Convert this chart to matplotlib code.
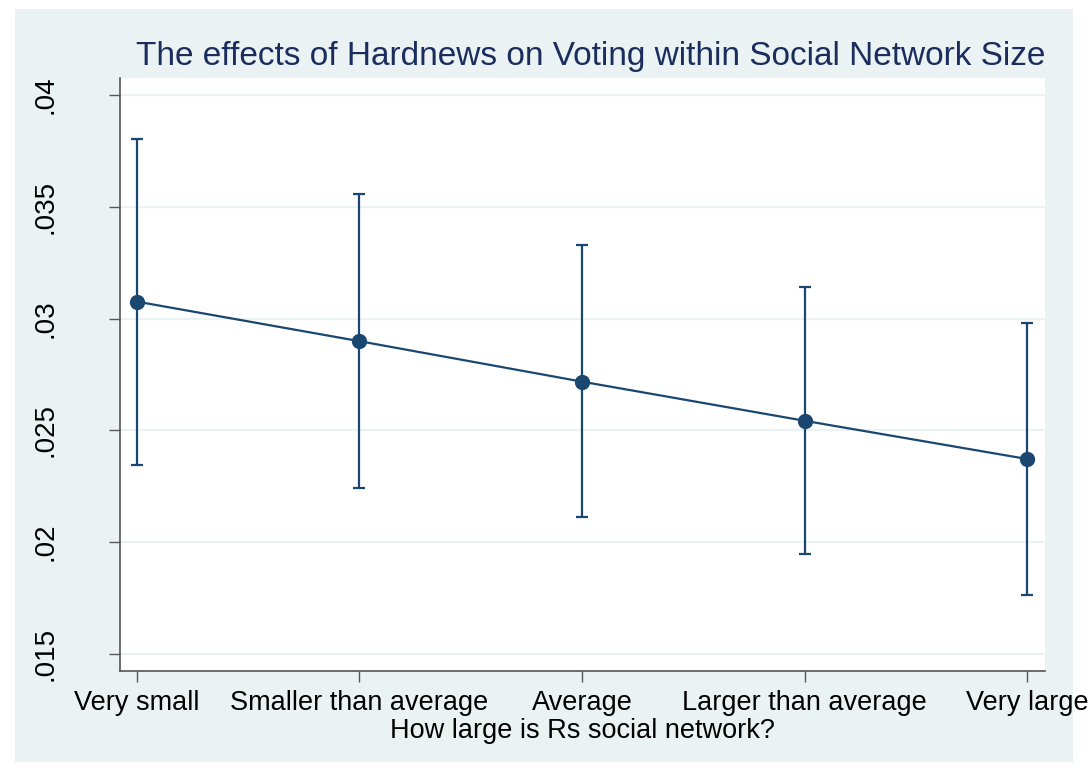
# marginal effect of hard news on turnout, by size of social network
import matplotlib.pyplot as plt
from matplotlib.patches import Rectangle

categories = ['Very small', 'Smaller than average', 'Average',
              'Larger than average', 'Very large']
effect = [0.03076, 0.02899, 0.02718, 0.02543, 0.02372]
ci_low = [0.02347, 0.02243, 0.02112, 0.01949, 0.01764]
ci_high = [0.03805, 0.03555, 0.03329, 0.03141, 0.02981]
yticks = [0.015, 0.02, 0.025, 0.03, 0.035, 0.04]
ytick_labels = ['.015', '.02', '.025', '.03', '.035', '.04']

navy = '#1a476f'
bg = '#eaf2f3'

plt.rcParams['font.family'] = ['Liberation Sans', 'DejaVu Sans']

fig = plt.figure(figsize=(10.92, 7.71), dpi=100, facecolor='white')
# stata-style shaded graph region, kept behind the axes
fig.patches.append(Rectangle((15 / 1092, 9 / 771), 1058 / 1092, 753 / 771,
                             transform=fig.transFigure, facecolor=bg,
                             edgecolor='none', zorder=-10))

ax = fig.add_axes([120 / 1092, 100 / 771, 925 / 1092, 593 / 771])
ax.set_facecolor('white')

x = list(range(1, len(categories) + 1))
yerr = [[e - lo for e, lo in zip(effect, ci_low)],
        [hi - e for e, hi in zip(effect, ci_high)]]
ax.errorbar(x, effect, yerr=yerr, color=navy, linewidth=1.6,
            elinewidth=1.6, capsize=4.3, capthick=1.6, zorder=3)
ax.plot(x, effect, 'o', color=navy, markersize=10, zorder=4)

ax.set_xlim(0.924, 5.08)
ax.set_ylim(0.01424, 0.04076)
ax.set_yticks(yticks)
ax.set_yticklabels(ytick_labels, rotation=90, va='center', fontsize=20)
ax.set_xticks(x)
ax.set_xticklabels(categories, fontsize=19.5)
ax.grid(axis='y', color=bg, linewidth=1.6)
ax.set_axisbelow(True)

for side in ['top', 'right']:
    ax.spines[side].set_visible(False)
for side in ['left', 'bottom']:
    ax.spines[side].set_color('#555555')
    ax.spines[side].set_linewidth(1.2)
ax.tick_params(axis='both', length=8, width=1.0, color='#555555',
               labelcolor='black')
ax.tick_params(axis='x', pad=6)
ax.tick_params(axis='y', pad=36)

ax.set_xlabel('How large is Rs social network?', fontsize=19.5, labelpad=1)
ax.set_title('The effects of Hardnews on Voting within Social Network Size',
             fontsize=24, color='#1a2d5c', pad=9, loc='right')

fig.savefig('out.png', dpi=100, facecolor='white')
